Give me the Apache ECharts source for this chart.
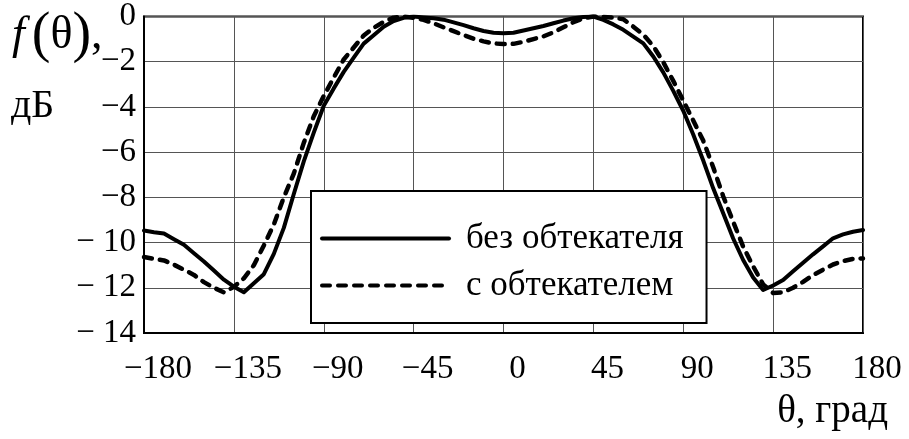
<!DOCTYPE html>
<html>
<head>
<meta charset="utf-8">
<title>f(θ)</title>
<script src="https://cdn.jsdelivr.net/npm/echarts@6/dist/echarts.min.js"></script>
<style>
  html, body { margin: 0; padding: 0; background: #fff; }
  #main { width: 909px; height: 439px; }
</style>
</head>
<body>
<div id="main"></div>
<script>
  // углы, град
  var angles = [-180, -175, -170, -165, -160, -155, -150, -145, -140, -135, -130, -125, -120,
    -115, -110, -105, -100, -95, -90, -85, -80, -75, -70, -65, -60, -55, -50, -45, -40, -35,
    -30, -25, -20, -15, -10, -5, 0, 5, 10, 15, 20, 25, 30, 35, 40, 45, 50, 55, 60, 65, 70, 75,
    80, 85, 90, 95, 100, 105, 110, 115, 120, 125, 130, 135, 140, 145, 150, 155, 160, 165, 170,
    175, 180];

  // без обтекателя, дБ
  var noRadome = [-9.47, -9.54, -9.6, -9.85, -10.1, -10.47, -10.84, -11.24, -11.64, -11.95, -12.2,
    -11.8, -11.4, -10.5, -9.35, -7.85, -6.41, -5.14, -3.95, -3.18, -2.45, -1.82, -1.2, -0.83,
    -0.45, -0.2, -0.06, 0, -0.04, -0.08, -0.14, -0.26, -0.38, -0.52, -0.64, -0.72, -0.74, -0.72,
    -0.62, -0.52, -0.42, -0.3, -0.18, -0.08, -0.02, 0, -0.15, -0.35, -0.59, -0.89, -1.19, -1.77,
    -2.47, -3.29, -4.17, -5.22, -6.37, -7.6, -8.7, -9.82, -10.77, -11.54, -12.1, -11.9, -11.66,
    -11.27, -10.89, -10.52, -10.17, -9.81, -9.64, -9.52, -9.44];

  // с обтекателем, дБ
  var withRadome = [-10.64, -10.72, -10.79, -10.98, -11.2, -11.43, -11.75, -12.0, -12.2, -11.96,
    -11.58, -11.0, -10.13, -9.2, -8.0, -6.95, -5.59, -4.41, -3.52, -2.7, -1.9, -1.37, -0.84, -0.5,
    -0.24, -0.05, 0, -0.06, -0.15, -0.3, -0.48, -0.65, -0.82, -0.98, -1.1, -1.19, -1.22, -1.21,
    -1.12, -1.0, -0.88, -0.7, -0.48, -0.25, -0.08, 0, -0.02, -0.05, -0.12, -0.45, -0.8, -1.31,
    -2.02, -2.85, -3.72, -4.6, -5.49, -6.67, -7.95, -9.08, -10.18, -11.05, -11.85, -12.23, -12.2,
    -12.0, -11.74, -11.44, -11.2, -10.97, -10.82, -10.72, -10.7];

  var seriesNames = ['без обтекателя', 'с обтекателем'];

  var xTicks = [-180, -135, -90, -45, 0, 45, 90, 135, 180];
  var xTickLabels = ['\u2212180', '\u2212135', '\u221290', '\u221245', '0', '45', '90', '135', '180'];
  var yTicks = [0, -2, -4, -6, -8, -10, -12, -14];
  var yTickLabels = ['0', '\u22122', '\u22124', '\u22126', '\u22128', '\u2212 10', '\u2212 12', '\u2212 14'];

  var FONT = '"Liberation Serif", "Times New Roman", serif';

  function pairs(ys) {
    return angles.map(function (a, i) { return [a, ys[i]]; });
  }

  var myChart = echarts.init(document.getElementById('main'), null, { renderer: 'canvas' });

  var option = {
    backgroundColor: '#fff',
    animation: false,
    grid: {
      left: 144, right: 46, top: 16, bottom: 106,
      show: true, borderColor: '#000', borderWidth: 2
    },
    xAxis: {
      type: 'value', min: -180, max: 180, interval: 45,
      axisLine: { show: true, onZero: false, lineStyle: { color: '#000', width: 2 } },
      axisTick: { show: false },
      splitLine: { show: true, lineStyle: { color: '#555', width: 1 } },
      axisLabel: {
        margin: 20, fontFamily: FONT, fontSize: 33, color: '#000',
        padding: [0, 0, 0, 28],
        formatter: function (v) {
          var i = xTicks.indexOf(v);
          return i >= 0 ? xTickLabels[i] : '';
        }
      }
    },
    yAxis: {
      type: 'value', min: -14, max: 0, interval: 2,
      axisLine: { show: true, onZero: false, lineStyle: { color: '#000', width: 2 } },
      axisTick: { show: false },
      splitLine: { show: true, lineStyle: { color: '#555', width: 1 } },
      axisLabel: {
        margin: 8, fontFamily: FONT, fontSize: 33, color: '#000',
        padding: [11, 0, 0, 0],
        formatter: function (v) {
          var i = yTicks.indexOf(v);
          return i >= 0 ? yTickLabels[i] : '';
        }
      }
    },
    legend: {
      orient: 'vertical',
      left: 311, top: 191,
      padding: [30, 23, 20, 9],
      itemGap: 12,
      itemWidth: 127, itemHeight: 20,
      borderColor: '#000', borderWidth: 2, backgroundColor: '#fff',
      itemStyle: { opacity: 0 },
      lineStyle: { width: 4 },
      textStyle: { fontFamily: FONT, fontSize: 35, color: '#000', padding: [0, 0, 0, 12] },
      data: seriesNames
    },
    graphic: [
      {
        type: 'text', left: 12, top: 8,
        style: {
          text: '{f|f}{p|(}{t|θ}{p|)}{t|,}',
          rich: {
            f: { fontFamily: FONT, fontStyle: 'italic', fontSize: 46, fill: '#000', padding: [0, 7, 0, 0] },
            p: { fontFamily: FONT, fontSize: 56, fill: '#000' },
            t: { fontFamily: FONT, fontSize: 46, fill: '#000' }
          }
        }
      },
      {
        type: 'text', left: 11, top: 86,
        style: { text: 'дБ', fontFamily: FONT, fontSize: 40, fill: '#000' }
      },
      {
        type: 'text', right: 21, top: 392,
        style: { text: 'θ, град', fontFamily: FONT, fontSize: 39, fill: '#000' }
      }
    ],
    series: [
      {
        name: seriesNames[0], type: 'line', data: pairs(noRadome),
        symbol: 'none', smooth: false,
        lineStyle: { color: '#000', width: 4, cap: 'round', join: 'round' },
        itemStyle: { color: '#000' }
      },
      {
        name: seriesNames[1], type: 'line', data: pairs(withRadome),
        symbol: 'none', smooth: false,
        lineStyle: { color: '#000', width: 4.5, type: [8, 8], cap: 'round', join: 'round' },
        itemStyle: { color: '#000' }
      }
    ]
  };

  myChart.setOption(option);
</script>
</body>
</html>
